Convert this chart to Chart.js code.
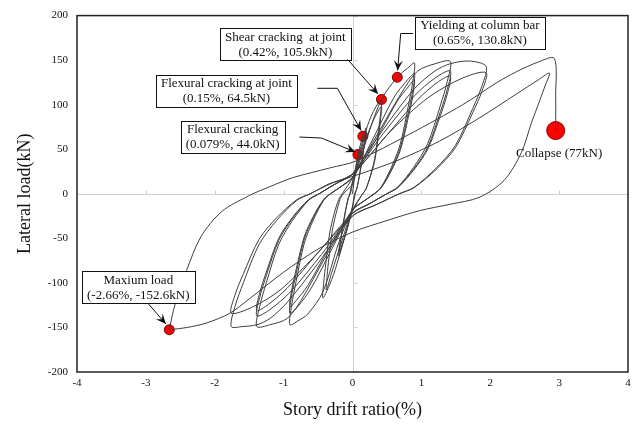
<!DOCTYPE html>
<html lang="en">
<head>
<meta charset="UTF-8">
<title>Lateral load vs story drift ratio</title>
<script src="https://cdn.jsdelivr.net/npm/chart.js"></script>
<style>
  html, body { margin: 0; padding: 0; background: #fff; }
  canvas { display: block; }
</style>
</head>
<body>
<canvas id="chart" width="638" height="428"></canvas>
<script>
// hysteresis path, [drift ratio %, lateral load kN], split by drift level
const cycle020 = [
  [0,0],[0.04,25],[0.079,44],[0.15,64.5],[0.2,74],[0.17,55],[0.12,30],[0.07,8],[0.04,0],[0,-15],[-0.08,-40],[-0.15,-58],
  [-0.2,-70],[-0.17,-52],[-0.12,-28],[-0.07,-8],[-0.04,0],[0,14],[0.08,40],[0.15,60],[0.2,70],[0.16,48],[0.11,24],
  [0.06,5],[0.03,0],[0,-14],[-0.1,-45],[-0.2,-66],[-0.16,-45],[-0.11,-22],[-0.06,-4],[-0.03,0],[0,12]
];
const cycle043 = [
  [0,12],[0.1,40],[0.2,72],[0.3,92],[0.42,105.9],[0.407,90],[0.378,71],[0.323,40],[0.262,21],[0.193,5],[0.147,0],
  [0,-20],[-0.1,-45],[-0.2,-72],[-0.3,-96],[-0.43,-117],[-0.417,-99],[-0.387,-78],[-0.331,-44],[-0.269,-23],[-0.198,-6],
  [-0.15,0],[0,18],[0.15,52],[0.3,82],[0.42,98],[0.407,83],[0.378,66],[0.323,37],[0.262,20],[0.193,5],[0.147,0],
  [0,-18],[-0.15,-52],[-0.3,-88],[-0.38,-108],[-0.369,-92],[-0.342,-72],[-0.293,-41],[-0.238,-22],[-0.175,-5],[-0.133,0],[0,10]
];
const cycle090 = [
  [0,10],[0.2,60],[0.42,105.9],[0.65,130.8],[0.8,141],[0.9,146.7],[0.873,124.7],[0.81,98.3],[0.693,55.7],[0.562,29.3],
  [0.414,7.3],[0.315,0],[0.15,-9],[0,-18],[-0.2,-55],[-0.43,-110],[-0.65,-135],[-0.8,-143],[-0.91,-147],[-0.883,-125],
  [-0.819,-98.5],[-0.701,-55.9],[-0.569,-29.4],[-0.419,-7.4],[-0.319,0],[-0.15,9],[0,18],
  [0.3,62],[0.6,108],[0.8,128],[0.9,135],[0.873,114.8],[0.81,90.5],[0.693,51.3],[0.562,27],[0.414,6.8],[0.315,0],
  [0.15,-9],[0,-18],[-0.3,-62],[-0.6,-106],[-0.8,-127],[-0.91,-134],[-0.883,-113.9],[-0.819,-89.8],[-0.701,-50.9],
  [-0.569,-26.8],[-0.419,-6.7],[-0.319,0],[-0.15,9],[0,18],
  [0.35,62],[0.65,104],[0.82,121],[0.9,128],[0.873,108.8],[0.81,85.8],[0.693,48.6],[0.562,25.6],[0.414,6.4],[0.315,0],
  [0.15,-9],[0,-18],[-0.35,-62],[-0.65,-103],[-0.82,-120],[-0.91,-127],[-0.883,-108],[-0.819,-85.1],[-0.701,-48.3],
  [-0.569,-25.4],[-0.419,-6.4],[-0.319,0],[-0.15,9],[0,18]
];
const cycle142 = [
  [0,18],[0.4,72],[0.75,118],[0.95,138],[1.2,146],[1.42,148.6],[1.377,126.3],[1.278,99.6],[1.093,56.5],[0.887,29.7],
  [0.653,7.4],[0.497,0],[0.25,-11],[0,-22],[-0.4,-72],[-0.75,-120],[-0.95,-140],[-1.2,-147],[-1.39,-149],[-1.348,-126.7],
  [-1.251,-99.8],[-1.07,-56.6],[-0.869,-29.8],[-0.639,-7.5],[-0.486,0],[-0.25,11],[0,22],
  [0.45,68],[0.9,110],[1.2,130],[1.42,138],[1.377,117.3],[1.278,92.5],[1.093,52.4],[0.887,27.6],[0.653,6.9],[0.497,0],
  [0.25,-11],[0,-22],[-0.45,-68],[-0.9,-110],[-1.2,-130],[-1.39,-137],[-1.348,-116.5],[-1.251,-91.8],[-1.07,-52.1],
  [-0.869,-27.4],[-0.639,-6.9],[-0.486,0],[-0.25,11],[0,22],
  [0.5,66],[0.95,106],[1.25,126],[1.42,132],[1.377,112.2],[1.278,88.4],[1.093,50.2],[0.887,26.4],[0.653,6.6],[0.497,0],
  [0.25,-11],[0,-22],[-0.5,-66],[-0.95,-106],[-1.22,-124],[-1.39,-131],[-1.348,-111.4],[-1.251,-87.8],[-1.07,-49.8],
  [-0.869,-26.2],[-0.639,-6.6],[-0.486,0],[-0.25,11],[0,22]
];
const cycle194 = [
  [0,22],[0.5,78],[0.9,118],[1.2,138],[1.42,146],[1.7,149],[1.94,143],[1.882,121.6],[1.746,95.8],[1.494,54.3],
  [1.212,28.6],[0.892,7.2],[0.679,0],[0.35,-12],[0,-25],[-0.5,-78],[-0.95,-122],[-1.2,-140],[-1.39,-147],[-1.6,-149],
  [-1.76,-149],[-1.707,-126.7],[-1.584,-99.8],[-1.355,-56.6],[-1.1,-29.8],[-0.81,-7.5],[-0.616,0],[-0.3,12],[0,22],
  [0.55,70],[1.1,108],[1.6,130],[1.94,136],[1.882,115.6],[1.746,91.1],[1.494,51.7],[1.212,27.2],[0.892,6.8],[0.679,0],
  [0.35,-12],[0,-25],[-0.55,-70],[-1.05,-108],[-1.45,-127],[-1.76,-134],[-1.707,-113.9],[-1.584,-89.8],[-1.355,-50.9],
  [-1.1,-26.8],[-0.81,-6.7],[-0.616,0],[-0.35,11]
];
const cycle300 = [
  [-0.35,11],[0.1,22],[0.64,37],[1.26,59],[1.84,85],[2.38,112],[2.7,128],[2.86,135.5],[2.8,122],[2.72,105],[2.6,80],
  [2.45,46],[2.2,15],[1.84,-4],[1.4,-12],[0.97,-19],[0.5,-30],[0,-43],[-0.5,-62],[-1.0,-88],[-1.5,-118],[-1.78,-134],
  [-2.12,-145],[-2.4,-150],[-2.66,-152.6]
];
const cycleLast = [
  [-2.66,-152.6],[-2.6,-131],[-2.5,-105],[-2.41,-86],[-2.2,-48],[-1.9,-20],[-1.5,-2],[-1.2,8],[-0.87,18],[-0.33,29],
  [0.06,37],[0.83,67],[1.6,100],[2.1,125],[2.38,137],[2.7,148],[2.93,152],[2.95,110],[2.95,71]
];

// marked events
const eventNames = ['Flexural cracking', 'Flexural cracking at joint', 'Shear cracking  at joint', 'Yielding at column bar', 'Maxium load'];
const eventDrift = ['0.079', '0.15', '0.42', '0.65', '-2.66'];
const eventLoad = ['44.0', '64.5', '105.9', '130.8', '-152.6'];
const collapseDrift = [2.95];
const collapseLoad = [71];
const collapseText = 'Collapse (77kN)';

const xTicks = [-4, -3, -2, -1, 0, 1, 2, 3, 4];
const yTicks = [-200, -150, -100, -50, 0, 50, 100, 150, 200];

// where the callout boxes and arrows sit (data units)
const callouts = [
  { at: [-1.74, 63.7], arrow: [[-0.77, 63.7], [-0.45, 62.6], [0.04, 46.9]] },
  { at: [-1.83, 115.6], arrow: [[-0.51, 118.4], [-0.22, 118.4], [0.125, 71]] },
  { at: [-0.975, 167.6], arrow: [[-0.07, 150.8], [0.37, 112]] },
  { at: [1.85, 180.4], arrow: [[0.88, 179.9], [0.70, 179.9], [0.655, 138.5]] },
  { at: [-3.11, -105], arrow: [[-2.97, -122.9], [-2.71, -146]] }
];
const collapseTextAt = [3.0, 44.7];

const SERIF = '"Liberation Serif", "DejaVu Serif", serif';
const curveColor = '#3d3d3d';

function toPoints(arr) {
  return arr.map(p => ({ x: p[0], y: p[1] }));
}

const curves = [cycle020, cycle043, cycle090, cycle142, cycle194, cycle300, cycleLast].map(c => ({
  data: toPoints(c),
  showLine: true,
  pointRadius: 0,
  borderColor: curveColor,
  borderWidth: 1,
  tension: 0.3
}));

const eventDots = {
  data: eventDrift.map((d, i) => ({ x: parseFloat(d), y: parseFloat(eventLoad[i]) })),
  pointRadius: 5,
  backgroundColor: '#ff0000',
  borderColor: '#7a0000',
  borderWidth: 1
};
const collapseDot = {
  data: collapseDrift.map((d, i) => ({ x: d, y: collapseLoad[i] })),
  pointRadius: 9,
  backgroundColor: '#ff0000',
  borderColor: '#8a0000',
  borderWidth: 1
};

function arrowHead(ctx, x1, y1, x2, y2) {
  const ang = Math.atan2(y2 - y1, x2 - x1);
  const len = 10, half = 4.5;
  ctx.beginPath();
  ctx.moveTo(x2, y2);
  ctx.lineTo(x2 - len * Math.cos(ang) + half * Math.sin(ang), y2 - len * Math.sin(ang) - half * Math.cos(ang));
  ctx.lineTo(x2 - 0.6 * len * Math.cos(ang), y2 - 0.6 * len * Math.sin(ang));
  ctx.lineTo(x2 - len * Math.cos(ang) - half * Math.sin(ang), y2 - len * Math.sin(ang) + half * Math.cos(ang));
  ctx.closePath();
  ctx.fill();
}

const decor = {
  id: 'decor',
  beforeDatasetsDraw(chart) {
    const { ctx, chartArea: a, scales: { x, y } } = chart;
    const x0 = Math.round(x.getPixelForValue(0)) + 0.5;
    const y0 = Math.round(y.getPixelForValue(0)) + 0.5;
    ctx.save();
    ctx.strokeStyle = '#cfcfcf';
    ctx.lineWidth = 1;
    ctx.beginPath();
    ctx.moveTo(a.left, y0); ctx.lineTo(a.right, y0);
    ctx.moveTo(x0, a.top); ctx.lineTo(x0, a.bottom);
    xTicks.forEach(v => {
      const p = Math.round(x.getPixelForValue(v)) + 0.5;
      ctx.moveTo(p, y0); ctx.lineTo(p, y0 - 4);
    });
    yTicks.forEach(v => {
      const p = Math.round(y.getPixelForValue(v)) + 0.5;
      ctx.moveTo(x0, p); ctx.lineTo(x0 + 4, p);
    });
    ctx.stroke();
    ctx.restore();
  },
  afterDraw(chart) {
    const { ctx, chartArea: a, scales: { x, y } } = chart;
    ctx.save();
    // outer frame
    ctx.strokeStyle = '#222';
    ctx.lineWidth = 1.5;
    ctx.strokeRect(a.left, a.top, a.right - a.left, a.bottom - a.top);

    ctx.font = '13px ' + SERIF;
    ctx.textAlign = 'center';
    ctx.textBaseline = 'middle';
    callouts.forEach((c, i) => {
      const lines = [eventNames[i], '(' + eventDrift[i] + '%, ' + eventLoad[i] + 'kN)'];
      const w = Math.max(...lines.map(t => ctx.measureText(t).width)) + 10;
      const h = 32;
      const cx = x.getPixelForValue(c.at[0]);
      const cy = y.getPixelForValue(c.at[1]);
      ctx.fillStyle = '#fff';
      ctx.fillRect(cx - w / 2, cy - h / 2, w, h);
      ctx.strokeStyle = '#111';
      ctx.lineWidth = 1;
      ctx.strokeRect(Math.round(cx - w / 2) + 0.5, Math.round(cy - h / 2) + 0.5, Math.round(w), h);
      ctx.fillStyle = '#111';
      ctx.fillText(lines[0], cx, cy - 7);
      ctx.fillText(lines[1], cx, cy + 8);

      const pts = c.arrow.map(p => [x.getPixelForValue(p[0]), y.getPixelForValue(p[1])]);
      ctx.beginPath();
      ctx.moveTo(pts[0][0], pts[0][1]);
      pts.slice(1).forEach(p => ctx.lineTo(p[0], p[1]));
      ctx.stroke();
      const n = pts.length;
      arrowHead(ctx, pts[n - 2][0], pts[n - 2][1], pts[n - 1][0], pts[n - 1][1]);
    });
    ctx.fillStyle = '#111';
    ctx.fillText(collapseText, x.getPixelForValue(collapseTextAt[0]), y.getPixelForValue(collapseTextAt[1]));
    ctx.restore();
  }
};

new Chart(document.getElementById('chart'), {
  type: 'scatter',
  data: { datasets: [...curves, eventDots, collapseDot] },
  options: {
    responsive: false,
    animation: false,
    events: [],
    layout: { padding: { left: 0, top: 14, right: 9, bottom: 0 } },
    plugins: { legend: { display: false }, tooltip: { enabled: false } },
    scales: {
      x: {
        type: 'linear', min: -4, max: 4,
        afterFit: s => { s.height = 56; },
        afterBuildTicks: s => { s.ticks = xTicks.map(v => ({ value: v })); },
        ticks: { color: '#111', padding: 5, font: { family: SERIF, size: 11 } },
        grid: { display: false, drawTicks: false },
        border: { display: false },
        title: { display: true, text: 'Story drift ratio(%)', color: '#111', font: { family: SERIF, size: 18 }, padding: { top: 0, bottom: 7 } }
      },
      y: {
        type: 'linear', min: -200, max: 200,
        afterFit: s => { s.width = 77; },
        afterBuildTicks: s => { s.ticks = yTicks.map(v => ({ value: v })); },
        ticks: { color: '#111', padding: 9, font: { family: SERIF, size: 11 } },
        grid: { display: false, drawTicks: false },
        border: { display: false },
        title: { display: true, text: 'Lateral load(kN)', color: '#111', font: { family: SERIF, size: 18 }, padding: { top: 14, bottom: 0 } }
      }
    }
  },
  plugins: [decor]
});
</script>
</body>
</html>
